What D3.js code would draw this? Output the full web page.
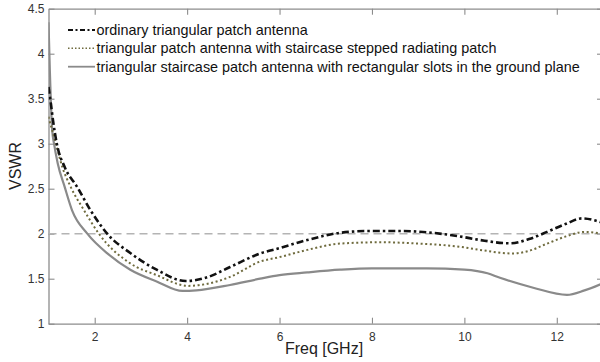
<!DOCTYPE html>
<html>
<head>
<meta charset="utf-8">
<script src="https://cdn.jsdelivr.net/npm/d3@7"></script>
<style>
  html, body { margin: 0; padding: 0; background: #fff; }
  svg { display: block; font-family: "Liberation Sans", Arial, sans-serif; }
</style>
</head>
<body>
<svg id="chart" width="600" height="362"></svg>
<script>
// ---- data ----
const seriesNames = [
  "ordinary triangular patch antenna",
  "triangular patch antenna with staircase stepped radiating patch",
  "triangular staircase patch antenna with rectangular slots in the ground plane"
];
const freqOrdinary = [1, 1.05, 1.1, 1.18, 1.35, 1.62, 1.91, 2.27, 2.77, 3.34, 3.97, 4.4, 4.93, 5.58, 6, 6.6, 7.31, 7.96, 8.6, 9.3, 9.9, 10.34, 10.99, 11.4, 11.79, 12.2, 12.55, 13];
const vswrOrdinary = [3.63, 3.45, 3.25, 3.0, 2.74, 2.52, 2.26, 2.0, 1.785, 1.6, 1.474, 1.51, 1.63, 1.78, 1.84, 1.93, 2.01, 2.03, 2.03, 2.01, 1.97, 1.93, 1.893, 1.94, 2.02, 2.11, 2.17, 2.12];
const freqStepped = [1, 1.04, 1.08, 1.16, 1.3, 1.48, 1.77, 2.09, 2.77, 3.34, 4.02, 4.4, 4.93, 5.58, 6, 6.6, 7.31, 8.2, 9, 9.9, 10.34, 11.05, 11.4, 11.79, 12.2, 12.6, 13];
const vswrStepped = [3.3, 3.22, 3.15, 3.0, 2.74, 2.52, 2.26, 2.0, 1.67, 1.54, 1.42, 1.44, 1.52, 1.69, 1.74, 1.82, 1.89, 1.905, 1.89, 1.855, 1.82, 1.78, 1.81, 1.89, 1.97, 2.02, 2.0];
const freqSlots = [1, 1.03, 1.08, 1.12, 1.2, 1.35, 1.51, 1.84, 2.3, 2.77, 3.34, 3.9, 4.2, 4.93, 5.58, 6, 6.6, 7.31, 8, 9.18, 10, 10.5, 10.77, 11.49, 12.22, 12.6, 13];
const vswrSlots = [4.35, 3.8, 3.15, 3.0, 2.78, 2.52, 2.26, 2.0, 1.77, 1.6, 1.47, 1.364, 1.37, 1.43, 1.50, 1.54, 1.57, 1.6, 1.615, 1.615, 1.6, 1.56, 1.51, 1.40, 1.32, 1.37, 1.45];
const xTicks = [2, 4, 6, 8, 10, 12];
const yTicks = [1, 1.5, 2, 2.5, 3, 3.5, 4, 4.5];
const refLevel = [2];

// ---- layout ----
const svg = d3.select("#chart");
const pLeft = 48.5, pRight = 603, pTop = 8.7, pBottom = 323.7;
const x = d3.scaleLinear().domain([1, 13]).range([pLeft, pRight]);
const y = d3.scaleLinear().domain([1, 4.5]).range([pBottom, pTop]);
const axisColor = "#8c8c8c";
const labelColor = "#333";

svg.append("defs").append("clipPath").attr("id", "clip")
  .append("rect").attr("x", pLeft).attr("y", pTop).attr("width", pRight - pLeft).attr("height", pBottom - pTop);

// axes (box style with inward ticks)
function styleAxis(g) {
  g.select(".domain").attr("stroke", axisColor).attr("stroke-width", 1.3);
  g.selectAll(".tick line").attr("stroke", axisColor).attr("stroke-width", 1.1);
  g.selectAll(".tick text").attr("fill", labelColor).attr("font-size", 12)
    .attr("font-family", "Liberation Sans, Arial, sans-serif");
}
const xAxis = svg.append("g").attr("transform", `translate(0,${pBottom})`)
  .call(d3.axisBottom(x).tickValues(xTicks).tickSize(-6).tickPadding(9).tickSizeOuter(0).tickFormat(d3.format("d")));
styleAxis(xAxis);
const xAxisTop = svg.append("g").attr("transform", `translate(0,${pTop})`)
  .call(d3.axisTop(x).tickValues(xTicks).tickSize(-6).tickSizeOuter(0).tickFormat(""));
styleAxis(xAxisTop);
const yAxis = svg.append("g").attr("transform", `translate(${pLeft},0)`)
  .call(d3.axisLeft(y).tickValues(yTicks).tickSize(-6).tickPadding(4).tickSizeOuter(0).tickFormat(d => d3.format("")(d)));
styleAxis(yAxis);
const yAxisRight = svg.append("g").attr("transform", `translate(${pRight},0)`)
  .call(d3.axisRight(y).tickValues(yTicks).tickSize(-6).tickSizeOuter(0).tickFormat(""));
styleAxis(yAxisRight);

// reference line at VSWR = 2
svg.append("g").selectAll("line").data(refLevel).enter().append("line")
  .attr("x1", pLeft).attr("x2", pRight)
  .attr("y1", d => y(d)).attr("y2", d => y(d))
  .attr("stroke", "#b4b4b4").attr("stroke-width", 1.6).attr("stroke-dasharray", "8,5");

// series
const series = [
  { name: seriesNames[0], f: freqOrdinary, v: vswrOrdinary, color: "#111", width: 2.6, dash: "7,3,2.5,3", lgWidth: 2.2, lgDash: "5,2.5,2,2.5" },
  { name: seriesNames[1], f: freqStepped, v: vswrStepped, color: "#6f6b3e", width: 2, dash: "2,2.6", lgWidth: 1.5, lgDash: "1.5,2" },
  { name: seriesNames[2], f: freqSlots, v: vswrSlots, color: "#8a8a8a", width: 2.2, dash: null, lgWidth: 1.8, lgDash: null }
];
const line = d3.line().x(d => x(d[0])).y(d => y(d[1])).curve(d3.curveMonotoneX);
const plot = svg.append("g").attr("clip-path", "url(#clip)");
series.slice().reverse().forEach(s => {
  plot.append("path")
    .datum(s.f.map((f, i) => [f, s.v[i]]))
    .attr("d", line)
    .attr("fill", "none")
    .attr("stroke", s.color)
    .attr("stroke-width", s.width)
    .attr("stroke-dasharray", s.dash);
});

// legend
const legendRows = [30, 48.3, 66.7];
const lg = svg.append("g");
series.forEach((s, i) => {
  lg.append("line").attr("x1", 68).attr("x2", 95)
    .attr("y1", legendRows[i]).attr("y2", legendRows[i])
    .attr("stroke", s.color).attr("stroke-width", s.lgWidth)
    .attr("stroke-dasharray", s.lgDash);
  lg.append("text").attr("x", 96.5).attr("y", legendRows[i] + 5)
    .attr("font-size", 14.4).attr("fill", "#111").text(s.name);
});

// axis labels
svg.append("text").attr("x", 324).attr("y", 354).attr("text-anchor", "middle")
  .attr("font-size", 16).attr("fill", "#222").text("Freq [GHz]");
svg.append("text").attr("transform", `translate(21,166) rotate(-90)`).attr("text-anchor", "middle")
  .attr("font-size", 16).attr("fill", "#222").text("VSWR");
</script>
</body>
</html>
